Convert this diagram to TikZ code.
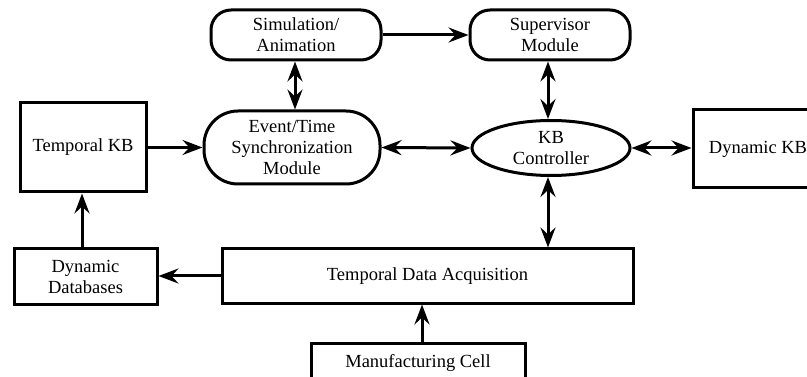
\documentclass[tikz,border=0pt]{standalone}
\usepackage{fontspec}
\setmainfont{Liberation Serif}
\usetikzlibrary{arrows.meta,shapes.geometric}
\begin{document}
\begin{tikzpicture}[x=1pt,y=-1pt,
  every node/.style={font=\fontsize{18.5}{21}\selectfont, align=center, line width=3pt, inner sep=0pt},
  box/.style={draw, rectangle},
  rbox/.style={draw, rectangle, rounded corners=20pt},
  pill/.style={draw, rectangle, rounded corners=34pt},
  oval/.style={draw, ellipse},
  arr/.style={line width=3pt, -{Stealth[length=20pt,width=15pt,inset=7pt]}},
  darr/.style={line width=3pt, {Stealth[length=20pt,width=15pt,inset=7pt]}-{Stealth[length=20pt,width=15pt,inset=7pt]}}]
\useasboundingbox (0,0) rectangle (807,377);
\node[box, minimum width=126pt, minimum height=89pt] (tkb) at (83,147.5) {Temporal KB};
\node[rbox, minimum width=170pt, minimum height=50pt] (sim) at (296,35) {Simulation/\\Animation};
\node[pill, minimum width=176pt, minimum height=73pt] (evt) at (292,147.5) {Event/Time\\Synchronization\\Module};
\node[rbox, minimum width=160pt, minimum height=50pt] (sup) at (550,35) {Supervisor\\Module};
\node[oval, minimum width=158pt, minimum height=55pt] (kbc) at (551,148) {KB\\Controller};
\node[box, minimum width=130pt, minimum height=78pt] (dkb) at (758,149) {Dynamic KB};
\node[box, minimum width=143pt, minimum height=55pt] (dd) at (85.5,276.5) {Dynamic\\Databases};
\node[box, minimum width=411pt, minimum height=54pt] (tda) at (427.5,276) {Temporal Data Acquisition};
\node[box, minimum width=214pt, minimum height=40pt] (mc) at (418,363) {Manufacturing Cell};
\coordinate (mctop) at (422,343);
\coordinate (ddtop) at (82,249);
\draw[arr] (tkb.east) -- (evt.west);
\draw[darr] (sim.south -| 295,0) -- (evt.north -| 295,0);
\draw[arr] (sim.east) -- (sup.west);
\draw[darr] (sup.south -| 548,0) -- (kbc.north -| 548,0);
\draw[darr] (evt.east) -- (kbc.west);
\draw[darr] (kbc.east) -- (dkb.west |- kbc.east);
\draw[darr] (kbc.south -| 548,0) -- (tda.north -| 548,0);
\draw[arr] (tda.west) -- (dd.east |- tda.west);
\draw[arr] (ddtop) -- (tkb.south -| ddtop);
\draw[arr] (mctop) -- (tda.south -| mctop);
\end{tikzpicture}
\end{document}
